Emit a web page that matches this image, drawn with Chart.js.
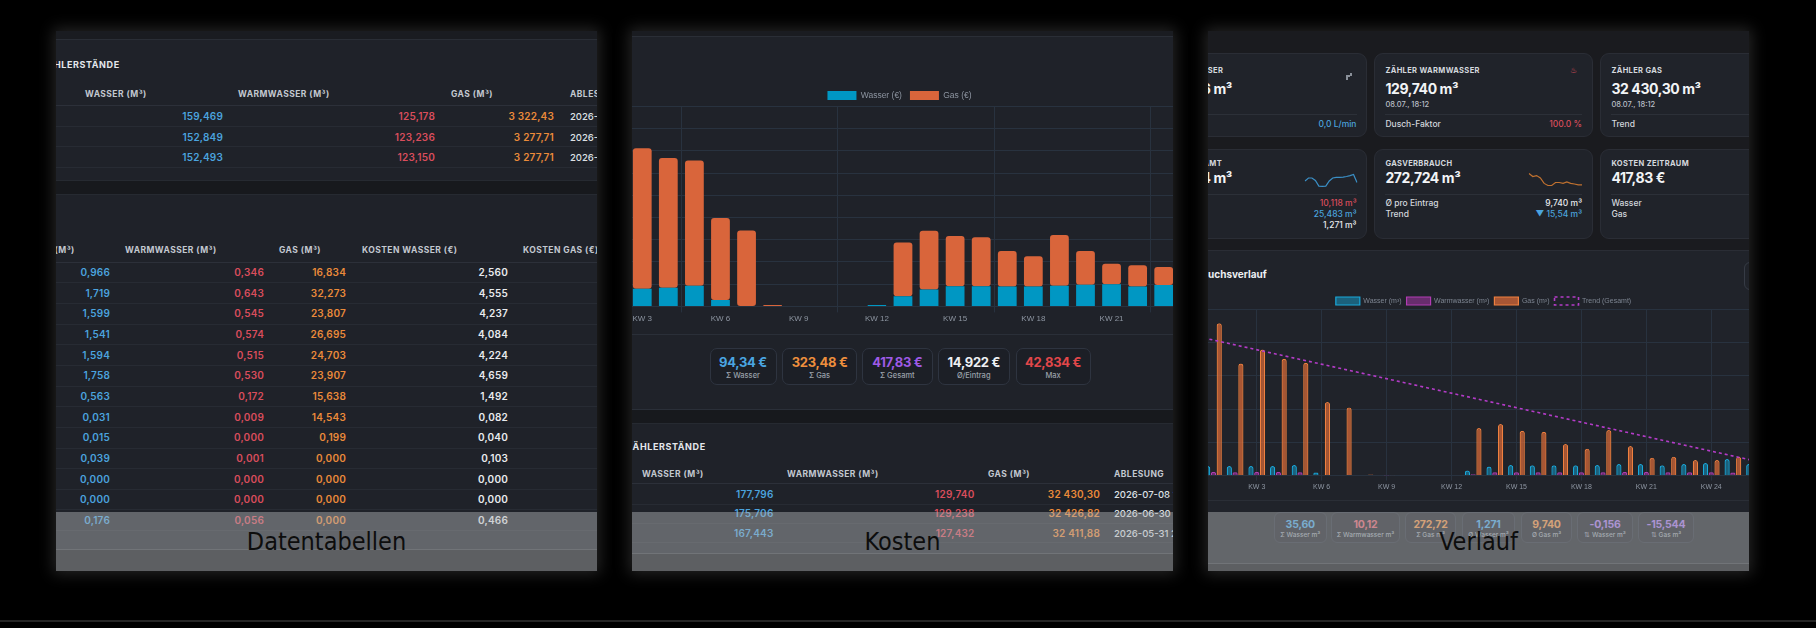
<!DOCTYPE html>
<html lang="de">
<head>
<meta charset="utf-8">
<title>Verbrauch – Datentabellen, Kosten, Verlauf</title>
<script src="https://cdn.jsdelivr.net/npm/chart.js@4.4.1/dist/chart.umd.min.js"></script>
<style>
  html, body { margin: 0; padding: 0; background: #000; }
  body { width: 1816px; height: 628px; overflow: hidden; position: relative; font-family: Inter, "Noto Sans", sans-serif; }
  .shot { position: absolute; top: 31px; width: 541px; height: 540px; overflow: hidden; background: #16171a;
          box-shadow: 0 0 14px 3px rgba(105,105,105,0.35); }
  .b { position: absolute; box-sizing: border-box; }
  .t { position: absolute; white-space: nowrap; line-height: 1; transform: translateY(-50%); }
  .t.r { transform: translate(-100%, -50%); }
  .t.c { transform: translate(-50%, -50%); }
  .sec { font: 700 9px Inter; color: #e4e7ec; letter-spacing: .6px; }
  .th { font: 700 8.5px Inter; color: #c3c8d0; letter-spacing: .45px; }
  .num { font: 600 10px Inter; letter-spacing: .2px; }
  .date { font: 500 9.5px Inter; color: #dde0e5; }
  .sv { font: 700 13px Inter; letter-spacing: -.3px; }
  .sl { font: 500 7.5px Inter; color: #9aa1ab; }
  .sv3 { font: 700 10.5px Inter; letter-spacing: -.2px; }
  .sl3 { font: 500 6.5px Inter; color: #9aa1ab; }
  .clab { font: 700 7.5px Inter; color: #d4d8de; letter-spacing: .35px; }
  .cval { font: 700 14px Inter; color: #f2f4f6; letter-spacing: -.4px; }
  .csub { font: 500 7.5px Inter; color: #b9bec6; }
  .cfoot { font: 500 8.5px Inter; color: #d3d7dd; }
  .ctitle { font: 700 10px Inter; color: #eef0f3; }
  .t.blue { color: #4ba3de; } .t.red { color: #d94d5c; } .t.orange { color: #ea8a3a; }
  .t.white { color: #e9ebee; } .t.purple { color: #a463e6; }
  .cap { position: absolute; left: 0; top: 481px; width: 541px; height: 59px; background: rgba(178,181,184,0.46); }
  .capt { position: absolute; left: 50%; top: 29px; transform: translate(-50%, -50%); white-space: nowrap;
          font: 400 25px "DejaVu Sans Condensed", "DejaVu Sans"; color: #0d0d0d; }
  .line { position: absolute; bottom: 6px; left: 0; width: 1816px; height: 2px; background: #262626; }
</style>
</head>
<body>
<script>
// ---- Kalenderwochen (KW 52 des Vorjahres bis KW 27)
const kwLabels = ['KW 52', 'KW 1', 'KW 2', 'KW 3', 'KW 4', 'KW 5', 'KW 6', 'KW 7', 'KW 8', 'KW 9',
  'KW 10', 'KW 11', 'KW 12', 'KW 13', 'KW 14', 'KW 15', 'KW 16', 'KW 17', 'KW 18', 'KW 19',
  'KW 20', 'KW 21', 'KW 22', 'KW 23', 'KW 24', 'KW 25', 'KW 26', 'KW 27'];

// ---- Kosten pro Woche (€)
const costWasser = [3.9, 4.1, 4.0, 3.98, 4.2, 4.65, 1.42, 0, 0, 0, 0, 0, 0.3, 2.3, 3.82, 4.56, 4.56, 4.49,
  4.49, 4.65, 4.87, 5.0, 4.49, 4.79, 4.9, 6.0, 4.7, 3.6];
const costGas = [30.0, 38.7, 28.6, 31.6, 29.2, 28.2, 18.5, 17.1, 0.3, 0, 0, 0, 0, 12.1, 13.2, 11.3, 11.0, 8.0,
  6.8, 11.4, 7.6, 4.6, 4.8, 4.1, 4.3, 4.9, 3.6, 0.9];

// ---- Verbrauch pro Woche (m³)
const verlaufWasser = [3.0, 2.9, 2.9, 2.9, 2.9, 3.2, 0.9, 0, 0, 0, 0, 0, 0.2, 1.5, 2.7, 3.2, 3.1, 3.1,
  3.1, 3.2, 3.5, 3.5, 3.1, 3.5, 3.8, 5.0, 3.5, 2.6];
const verlaufWarm = [1.0, 1.1, 1.0, 1.1, 1.1, 1.0, 0.2, 0, 0, 0.05, 0, 0, 0, 0.4, 1.0, 1.0, 1.0, 1.0,
  1.0, 1.0, 1.1, 1.1, 1.0, 1.0, 1.0, 0.9, 0.8, 0.6];
const verlaufGas = [32.0, 45.8, 33.7, 37.9, 35.1, 33.9, 22.1, 20.5, 0.3, 0.1, 0, 0, 0, 14.3, 15.5, 13.5,
  13.2, 9.5, 8.1, 13.7, 8.9, 5.4, 5.7, 4.7, 4.7, 5.7, 4.3, 1.1];
// Trendlinie: nur Anfangs- und Endwert, dazwischen gerade verbunden
const trendGesamt = [42.2, null, null, null, null, null, null, null, null, null, null, null, null, null,
  null, null, null, null, null, null, null, null, null, null, null, null, null, 3.0];

// ---- Sparklines in den Karten
const sparkWasser = [20, 30, 30, 22, 3, 2, 3, 20, 30, 32, 32, 33, 35, 38, 42, 15];
const sparkGas = [45, 35, 38, 30, 12, 5, 5, 15, 15, 12, 17, 12, 10, 7, 7];

// ---- Tabellen
const meterWasserA = ['159,469', '152,849', '152,493'];
const meterWarmA = ['125,178', '123,236', '123,150'];
const meterGasA = ['3 322,43', '3 277,71', '3 277,71'];
const meterDateA = ['2026-03-02 07:40', '2026-02-23 19:05', '2026-02-16 21:30'];

const consWasser = ['0,966', '1,719', '1,599', '1,541', '1,594', '1,758', '0,563', '0,031', '0,015', '0,039', '0,000', '0,000', '0,176', '0,093'];
const consWarm = ['0,346', '0,643', '0,545', '0,574', '0,515', '0,530', '0,172', '0,009', '0,000', '0,001', '0,000', '0,000', '0,056', '0,016'];
const consGas = ['16,834', '32,273', '23,807', '26,695', '24,703', '23,907', '15,638', '14,543', '0,199', '0,000', '0,000', '0,000', '0,000', '13,667'];
const consCostW = ['2,560', '4,555', '4,237', '4,084', '4,224', '4,659', '1,492', '0,082', '0,040', '0,103', '0,000', '0,000', '0,466', '0,252'];

const meterWasserB = ['177,796', '175,706', '167,443'];
const meterWarmB = ['129,740', '129,238', '127,432'];
const meterGasB = ['32 430,30', '32 426,82', '32 411,88'];
const meterDateB = ['2026-07-08 18:12', '2026-06-30 23:05', '2026-05-31 22:47'];

// ---- Kennzahlen
const costStatVals = ['94,34 €', '323,48 €', '417,83 €', '14,922 €', '42,834 €'];
const costStatLabels = ['Σ Wasser', 'Σ Gas', 'Σ Gesamt', 'Ø/Eintrag', 'Max'];
const verlaufStatVals = ['35,60', '10,12', '272,72', '1,271', '9,740', '-0,156', '-15,544'];
const verlaufStatLabels = ['Σ Wasser m³', 'Σ Warmwasser m³', 'Σ Gas m³', 'Ø Wasser m³', 'Ø Gas m³', '⇅ Wasser m³', '⇅ Gas m³'];

// ---------------------------------------------------------------
const stage = document.body;

function el(parent, cls, css) {
  const d = document.createElement('div');
  if (cls) d.className = cls;
  if (css) d.style.cssText = css;
  parent.appendChild(d);
  return d;
}
function box(parent, x, y, w, h, css) {
  return el(parent, 'b', `left:${x}px;top:${y}px;width:${w}px;height:${h}px;${css || ''}`);
}
function txt(parent, x, y, s, cls, align) {
  const d = el(parent, 't ' + (cls || '') + (align ? ' ' + align : ''), `left:${x}px;top:${y}px`);
  d.textContent = s;
  return d;
}
function canvasAt(parent, x, y, w, h) {
  const c = document.createElement('canvas');
  c.width = w; c.height = h;
  c.style.cssText = `position:absolute;left:${x}px;top:${y}px;width:${w}px;height:${h}px`;
  parent.appendChild(c);
  return c;
}
function shot(x) {
  return el(stage, 'shot', `left:${x}px`);
}
function caption(s, text) {
  const cap = el(s, 'cap');
  el(cap, 'capt').textContent = text;
}

Chart.defaults.font.family = "'Liberation Sans', Arial, sans-serif";
Chart.defaults.animation = false;
const gridCol = '#28323f';
const tickCol = '#8d95a1';

// ================= Panel 1: Datentabellen =================
const s1 = shot(56);
box(s1, 0, 0, 541, 518, 'background:#1f2229');
box(s1, 0, 0, 541, 9, 'background:#1a1c21;border-bottom:1px solid #2a2e36');
txt(s1, -16, 33, 'ZÄHLERSTÄNDE', 'sec');
txt(s1, 29, 63, 'WASSER (M³)', 'th');
txt(s1, 182, 63, 'WARMWASSER (M³)', 'th');
txt(s1, 395, 63, 'GAS (M³)', 'th');
txt(s1, 514, 63, 'ABLESUNG', 'th');
box(s1, 0, 74, 541, 1, 'background:#2c3039');
meterWasserA.forEach((v, i) => {
  const y = 85 + i * 20.6;
  txt(s1, 167, y, v, 'num blue', 'r');
  txt(s1, 379, y, meterWarmA[i], 'num red', 'r');
  txt(s1, 498, y, meterGasA[i], 'num orange', 'r');
  txt(s1, 514, y, meterDateA[i], 'date');
  box(s1, 0, y + 9.5, 541, 1, 'background:#272b33');
});
box(s1, 0, 149, 541, 15, 'background:#17191d;border-top:1px solid #262a31;border-bottom:1px solid #262a31');
txt(s1, -43, 219, 'WASSER (M³)', 'th');
txt(s1, 69, 219, 'WARMWASSER (M³)', 'th');
txt(s1, 223, 219, 'GAS (M³)', 'th');
txt(s1, 306, 219, 'KOSTEN WASSER (€)', 'th');
txt(s1, 467, 219, 'KOSTEN GAS (€)', 'th');
box(s1, 0, 231, 541, 1, 'background:#2c3039');
const t2 = box(s1, 0, 232, 541, 273, 'overflow:hidden');
consWasser.forEach((v, i) => {
  const y = 241 + i * 20.65 - 232;
  txt(t2, 54, y, v, 'num blue', 'r');
  txt(t2, 208, y, consWarm[i], 'num red', 'r');
  txt(t2, 290, y, consGas[i], 'num orange', 'r');
  txt(t2, 452, y, consCostW[i], 'num white', 'r');
  box(t2, 0, y + 10.3, 541, 1, 'background:#272b33');
});
box(s1, 0, 518, 541, 1, 'background:#3a3d43');
caption(s1, 'Datentabellen');

// ================= Panel 2: Kosten =================
const s2 = shot(632);
box(s2, 0, 0, 541, 522, 'background:#1f2229');
box(s2, 0, 0, 541, 6, 'background:#1a1c21;border-bottom:1px solid #2a2e36');
const c2 = canvasAt(s2, -115.5, 51.5, 765, 243);
new Chart(c2, {
  type: 'bar',
  data: {
    labels: kwLabels,
    datasets: [
      { label: 'Wasser (€)', data: costWasser, backgroundColor: '#0097c3', borderWidth: 0, borderRadius: 3, borderSkipped: false },
      { label: 'Gas (€)', data: costGas, backgroundColor: '#d9653b', borderWidth: 0, borderRadius: 3, borderSkipped: false }
    ]
  },
  options: {
    responsive: false,
    animation: false,
    plugins: {
      legend: { position: 'top', maxHeight: 23.5,
        labels: { boxWidth: 29, boxHeight: 9, padding: 8, color: tickCol, font: { size: 8.5 } } },
      tooltip: { enabled: false }
    },
    scales: {
      x: { stacked: true, grid: { color: gridCol, tickLength: 6 }, border: { color: gridCol },
        ticks: { color: tickCol, font: { size: 8 }, padding: 2, maxRotation: 0, autoSkip: true, maxTicksLimit: 10 } },
      y: { stacked: true, min: 0, max: 45, grid: { color: gridCol }, border: { display: false },
        ticks: { stepSize: 5, color: tickCol, font: { size: 8 }, callback: v => v + ' €' },
        afterFit: s => { s.width = 34; } }
    }
  }
});
box(s2, 0, 303, 541, 1, 'background:#2a2f38');
const costBoxes = [[77.5, 67], [150.4, 74.4], [230, 70.6], [306, 71.6], [383.5, 75.1]];
const costCols = ['#4aa6e2', '#ee8f3d', '#9f5ae6', '#eef0f3', '#e2474a'];
costStatVals.forEach((v, i) => {
  const [x, w] = costBoxes[i];
  box(s2, x, 317, w, 37, 'border:1px solid #2e3440;border-radius:7px;background:#1c1f26');
  txt(s2, x + w / 2, 330.7, v, 'sv', 'c').style.color = costCols[i];
  txt(s2, x + w / 2, 344.3, costStatLabels[i], 'sl', 'c');
});
box(s2, 0, 378, 541, 15, 'background:#17191d;border-top:1px solid #2a2f38;border-bottom:1px solid #262a31');
txt(s2, -6, 414.7, 'ZÄHLERSTÄNDE', 'sec');
txt(s2, 10, 442.7, 'WASSER (M³)', 'th');
txt(s2, 155, 442.7, 'WARMWASSER (M³)', 'th');
txt(s2, 356, 442.7, 'GAS (M³)', 'th');
txt(s2, 482, 442.7, 'ABLESUNG', 'th');
box(s2, 0, 452, 541, 1, 'background:#2c3039');
meterWasserB.forEach((v, i) => {
  const y = 463 + i * 19.3;
  txt(s2, 141.5, y, v, 'num blue', 'r');
  txt(s2, 342.5, y, meterWarmB[i], 'num red', 'r');
  txt(s2, 468, y, meterGasB[i], 'num orange', 'r');
  txt(s2, 482, y, meterDateB[i], 'date');
  box(s2, 0, y + 9.5, 541, 1, 'background:#272b33');
});
box(s2, 0, 522, 541, 1, 'background:#3a3d43');
caption(s2, 'Kosten');

// ================= Panel 3: Verlauf =================
const s3 = shot(1208);
box(s3, 0, 0, 541, 532, 'background:#1a1b1f');
function card(x, y, w, h) {
  return box(s3, x, y, w, h, 'background:#20232a;border:1px solid #2a2d35;border-radius:9px');
}
function faucet(x, y, col) {
  const d = box(s3, x - 4, y - 5, 8, 10, '');
  d.innerHTML = `<svg width="8" height="10" viewBox="0 0 8 10"><path d="M1 4h4V2h2v3H5v1H3v3H1z" fill="${col}"/></svg>`;
}
// Zeile 1
card(-59.4, 22.3, 218.3, 84);
card(166.3, 22.3, 218.3, 84);
card(392.3, 22.3, 218.3, 84);
txt(s3, -53, 39.3, 'ZÄHLER WASSER', 'clab');
txt(s3, 24, 57.3, '177,796 m³', 'cval', 'r');
faucet(140.7, 39.3, '#8a9099');
box(s3, -48.4, 83.3, 196.9, 1, 'background:#2c3038');
txt(s3, 148.5, 93, '0,0 L/min', 'cfoot blue', 'r');

txt(s3, 177.4, 39.3, 'ZÄHLER WARMWASSER', 'clab');
txt(s3, 365.7, 39.3, '♨', 'red', 'c').style.fontSize = '8px';
txt(s3, 177.4, 57.3, '129,740 m³', 'cval');
txt(s3, 177.4, 72.7, '08.07., 18:12', 'csub');
box(s3, 177.4, 83.3, 196.9, 1, 'background:#2c3038');
txt(s3, 177.4, 93, 'Dusch-Faktor', 'cfoot');
txt(s3, 374, 93, '100.0 %', 'cfoot red', 'r');

txt(s3, 403.4, 39.3, 'ZÄHLER GAS', 'clab');
txt(s3, 403.4, 57.3, '32 430,30 m³', 'cval');
txt(s3, 403.4, 72.7, '08.07., 18:12', 'csub');
box(s3, 403.4, 83.3, 196.9, 1, 'background:#2c3038');
txt(s3, 403.4, 93, 'Trend', 'cfoot');
// Zeile 2
card(-59.4, 118.3, 218.3, 89.4);
card(166.3, 118.3, 218.3, 89.4);
card(392.3, 118.3, 218.3, 89.4);
txt(s3, 14, 132.3, 'WASSER GESAMT', 'clab', 'r');
txt(s3, 24, 146.3, '35,604 m³', 'cval', 'r');
box(s3, -48.4, 163.3, 196.9, 1, 'background:#2c3038');
txt(s3, 148.5, 172, '10,118 m³', 'cfoot red', 'r');
txt(s3, 148.5, 183, '25,483 m³', 'cfoot blue', 'r');
txt(s3, 148.5, 194, '1,271 m³', 'cfoot white', 'r');

txt(s3, 177.4, 132.3, 'GASVERBRAUCH', 'clab');
txt(s3, 177.4, 146.3, '272,724 m³', 'cval');
box(s3, 177.4, 163.3, 196.9, 1, 'background:#2c3038');
txt(s3, 177.4, 172, 'Ø pro Eintrag', 'cfoot');
txt(s3, 374, 172, '9,740 m³', 'cfoot white', 'r');
txt(s3, 177.4, 183, 'Trend', 'cfoot');
txt(s3, 374, 183, '▼ 15,54 m³', 'cfoot blue', 'r');

txt(s3, 403.4, 132.3, 'KOSTEN ZEITRAUM', 'clab');
txt(s3, 403.4, 146.3, '417,83 €', 'cval');
box(s3, 403.4, 163.3, 196.9, 1, 'background:#2c3038');
txt(s3, 403.4, 172, 'Wasser', 'cfoot');
txt(s3, 403.4, 183, 'Gas', 'cfoot');

function spark(x, y, w, h, data, col) {
  const c = canvasAt(s3, x, y, w, h);
  new Chart(c, {
    type: 'line',
    data: { labels: data.map((_, i) => i), datasets: [{ data, borderColor: col, borderWidth: 1.2, pointRadius: 0, tension: 0, fill: false }] },
    options: { responsive: false, animation: false, layout: { padding: 1 },
      plugins: { legend: { display: false }, tooltip: { enabled: false } },
      scales: { x: { display: false }, y: { display: false } } }
  });
}
spark(96, 139.7, 54, 17, sparkWasser, '#3a8fc6');
spark(320, 139.7, 55, 17, sparkGas, '#c0712f');

// Verlaufskarte
box(s3, -20, 219, 581, 313.3, 'background:#20232a;border-top:1px solid #2a2d35');
txt(s3, -33, 243, 'Verbrauchsverlauf', 'ctitle');
box(s3, 536, 231, 24, 28, 'border:1px solid #363b45;border-radius:6px');
const c3 = canvasAt(s3, -61.5, 261, 673, 201);
new Chart(c3, {
  type: 'bar',
  data: {
    labels: kwLabels,
    datasets: [
      { label: 'Wasser (m³)', data: verlaufWasser, backgroundColor: 'rgba(22,160,205,0.5)', borderColor: '#19a9dc', borderWidth: 1.2, borderRadius: 3 },
      { label: 'Warmwasser (m³)', data: verlaufWarm, backgroundColor: 'rgba(176,56,176,0.5)', borderColor: '#b23cb4', borderWidth: 1.2, borderRadius: 3 },
      { label: 'Gas (m³)', data: verlaufGas, backgroundColor: 'rgba(214,104,56,0.75)', borderColor: '#f0803f', borderWidth: 1.2, borderRadius: 3 },
      { type: 'line', label: 'Trend (Gesamt)', data: trendGesamt, borderColor: '#b43cc8', backgroundColor: 'transparent',
        borderDash: [3, 3], borderWidth: 1.6, pointRadius: 0, spanGaps: true, fill: false, order: -1 }
    ]
  },
  options: {
    responsive: false,
    animation: false,
    plugins: {
      legend: { position: 'top', maxHeight: 17.3,
        labels: { boxWidth: 24, boxHeight: 8, padding: 5, color: '#7d8591', font: { size: 7 },
          sort: (a, b) => a.datasetIndex - b.datasetIndex } },
      tooltip: { enabled: false }
    },
    scales: {
      x: { offset: true, grid: { offset: false, color: gridCol, tickLength: 5 }, border: { color: gridCol },
        ticks: { color: tickCol, font: { size: 7 }, padding: 2, maxRotation: 0, autoSkip: true, maxTicksLimit: 10 } },
      y: { min: 0, max: 50, grid: { color: gridCol }, border: { display: false },
        ticks: { stepSize: 10, color: tickCol, font: { size: 7 } }, afterFit: s => { s.width = 34; } },
      y2: { position: 'right', min: 0, max: 50, grid: { drawOnChartArea: false }, border: { display: false },
        ticks: { stepSize: 10, color: tickCol, font: { size: 7 } }, afterFit: s => { s.width = 33; } }
    }
  }
});
box(s3, -20, 469, 581, 1, 'background:#2a2e36');
const verlaufBoxes = [[66, 52.5], [123, 69], [197, 51], [254, 53], [313, 51], [369, 56], [430, 56]];
const verlaufCols = ['#4aa6e2', '#e0606e', '#ef9345', '#4aa6e2', '#ef9345', '#a678e6', '#a678e6'];
verlaufStatVals.forEach((v, i) => {
  const [x, w] = verlaufBoxes[i];
  box(s3, x, 481.3, w, 31, 'border:1px solid #2c313b;border-radius:6px;background:#1c1f26');
  txt(s3, x + w / 2, 492.7, v, 'sv3', 'c').style.color = verlaufCols[i];
  txt(s3, x + w / 2, 503.7, verlaufStatLabels[i], 'sl3', 'c');
});
box(s3, 0, 532.3, 541, 1, 'background:#3a3d43');
caption(s3, 'Verlauf');

el(stage, 'line');
</script>
</body>
</html>
